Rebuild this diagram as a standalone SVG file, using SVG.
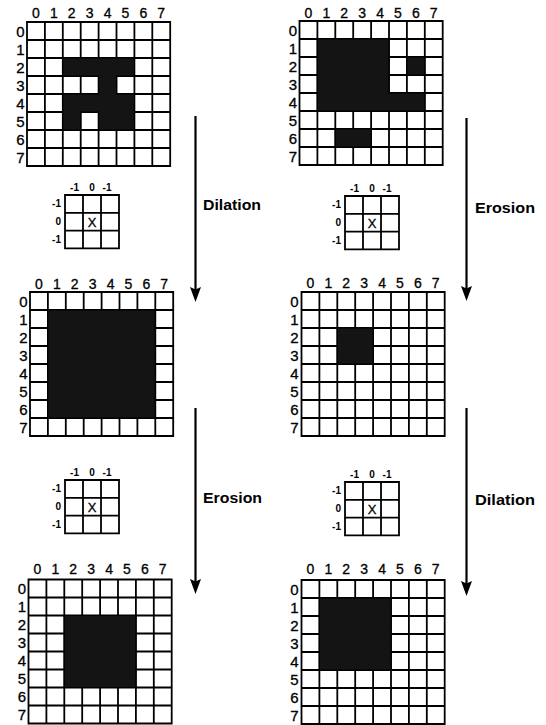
<svg xmlns="http://www.w3.org/2000/svg" xmlns:xlink="http://www.w3.org/1999/xlink" width="546" height="725" viewBox="0 0 546 725">
<style>
.bg{fill:#fff}
.grid{fill:none;stroke:#000;stroke-width:1.8}
.cell{fill:#141414;stroke:#000;stroke-width:1.2}
.lbl{font-family:"Liberation Sans",Arial,sans-serif;font-size:14px;fill:#000;stroke:#000;stroke-width:0.3;text-anchor:middle}
.rl{font-family:"Liberation Sans",Arial,sans-serif;font-size:15px;fill:#000;stroke:#000;stroke-width:0.3;text-anchor:end}
.sl{font-family:"Liberation Sans",Arial,sans-serif;font-size:10px;font-weight:bold;fill:#000;text-anchor:middle}
.sr{font-family:"Liberation Sans",Arial,sans-serif;font-size:10px;font-weight:bold;fill:#000;text-anchor:end}
.x{font-family:"Liberation Sans",Arial,sans-serif;font-size:13px;fill:#000;stroke:#000;stroke-width:0.3;text-anchor:middle}
.op{font-family:"Liberation Sans",Arial,sans-serif;font-size:15px;font-weight:bold;fill:#000}
.arr{fill:none;stroke:#000;stroke-width:2.2}
</style>
<defs>
<g id="g8">
<path class="grid" d="M0 0H143.2V144H0Z M17.9 0V144 M35.8 0V144 M53.7 0V144 M71.6 0V144 M89.5 0V144 M107.4 0V144 M125.3 0V144 M0 18H143.2 M0 36H143.2 M0 54H143.2 M0 72H143.2 M0 90H143.2 M0 108H143.2 M0 126H143.2"/>
</g>
<g id="g3">
<path class="grid" d="M0 0H54V53.4H0Z M18 0V53.4 M36 0V53.4 M0 17.8H54 M0 35.6H54"/>
</g>
<marker id="ah" markerUnits="userSpaceOnUse" markerWidth="15" markerHeight="11" viewBox="0 0 15 11" refX="8" refY="5.5" orient="auto">
<path d="M0 0 L15 5.5 L0 11 L2.5 5.5 Z" fill="#000"/>
</marker>
</defs>
<rect class="bg" x="0" y="0" width="546" height="725"/>

<g id="grid-input-left">
<use xlink:href="#g8" x="27" y="22"/>
<path class="cell" d="M62.8 58H134.4V76H116.5V94H134.4V130H98.6V112H80.7V130H62.8V94H98.6V76H62.8Z"/>
<text class="lbl" x="35.95" y="18">0</text><text class="lbl" x="53.85" y="18">1</text><text class="lbl" x="71.75" y="18">2</text><text class="lbl" x="89.65" y="18">3</text><text class="lbl" x="107.55" y="18">4</text><text class="lbl" x="125.45" y="18">5</text><text class="lbl" x="143.35" y="18">6</text><text class="lbl" x="161.25" y="18">7</text>
<text class="rl" x="24.5" y="36.5">0</text><text class="rl" x="24.5" y="54.5">1</text><text class="rl" x="24.5" y="72.5">2</text><text class="rl" x="24.5" y="90.5">3</text><text class="rl" x="24.5" y="108.5">4</text><text class="rl" x="24.5" y="126.5">5</text><text class="rl" x="24.5" y="144.5">6</text><text class="rl" x="24.5" y="162.5">7</text>
</g>

<g id="grid-input-right">
<use xlink:href="#g8" x="299.5" y="21"/>
<path class="cell" d="M317.4 39h71.6v54h35.8v18h-107.4z M406.9 57h17.9v18h-17.9z M335.3 129h35.8v18h-35.8z"/>
<text class="lbl" x="308.45" y="17.5">0</text><text class="lbl" x="326.35" y="17.5">1</text><text class="lbl" x="344.25" y="17.5">2</text><text class="lbl" x="362.15" y="17.5">3</text><text class="lbl" x="380.05" y="17.5">4</text><text class="lbl" x="397.95" y="17.5">5</text><text class="lbl" x="415.85" y="17.5">6</text><text class="lbl" x="433.75" y="17.5">7</text>
<text class="rl" x="297" y="35.5">0</text><text class="rl" x="297" y="53.5">1</text><text class="rl" x="297" y="71.5">2</text><text class="rl" x="297" y="89.5">3</text><text class="rl" x="297" y="107.5">4</text><text class="rl" x="297" y="125.5">5</text><text class="rl" x="297" y="143.5">6</text><text class="rl" x="297" y="161.5">7</text>
</g>

<g id="se-upper-left">
<use xlink:href="#g3" x="65" y="195"/>
<text class="sl" x="74.5" y="191">-1</text><text class="sl" x="92" y="191">0</text><text class="sl" x="107" y="191">-1</text>
<text class="sr" x="61" y="207">-1</text><text class="sr" x="61" y="225">0</text><text class="sr" x="61" y="243">-1</text>
<text class="x" x="92" y="227">X</text>
</g>

<g id="se-upper-right">
<use xlink:href="#g3" x="345" y="196"/>
<text class="sl" x="354.5" y="192">-1</text><text class="sl" x="372" y="192">0</text><text class="sl" x="387" y="192">-1</text>
<text class="sr" x="341" y="208">-1</text><text class="sr" x="341" y="226">0</text><text class="sr" x="341" y="244">-1</text>
<text class="x" x="372" y="228">X</text>
</g>

<g id="grid-middle-left">
<use xlink:href="#g8" x="30" y="292"/>
<path class="cell" d="M47.9 310h107.4v108h-107.4z"/>
<text class="lbl" x="38.95" y="288.5">0</text><text class="lbl" x="56.85" y="288.5">1</text><text class="lbl" x="74.75" y="288.5">2</text><text class="lbl" x="92.65" y="288.5">3</text><text class="lbl" x="110.55" y="288.5">4</text><text class="lbl" x="128.45" y="288.5">5</text><text class="lbl" x="146.35" y="288.5">6</text><text class="lbl" x="164.25" y="288.5">7</text>
<text class="rl" x="27.5" y="306.5">0</text><text class="rl" x="27.5" y="324.5">1</text><text class="rl" x="27.5" y="342.5">2</text><text class="rl" x="27.5" y="360.5">3</text><text class="rl" x="27.5" y="378.5">4</text><text class="rl" x="27.5" y="396.5">5</text><text class="rl" x="27.5" y="414.5">6</text><text class="rl" x="27.5" y="432.5">7</text>
</g>

<g id="grid-middle-right">
<use xlink:href="#g8" x="301.5" y="292"/>
<path class="cell" d="M337.3 328h35.8v36h-35.8z"/>
<text class="lbl" x="310.45" y="288">0</text><text class="lbl" x="328.35" y="288">1</text><text class="lbl" x="346.25" y="288">2</text><text class="lbl" x="364.15" y="288">3</text><text class="lbl" x="382.05" y="288">4</text><text class="lbl" x="399.95" y="288">5</text><text class="lbl" x="417.85" y="288">6</text><text class="lbl" x="435.75" y="288">7</text>
<text class="rl" x="298.5" y="306.5">0</text><text class="rl" x="298.5" y="324.5">1</text><text class="rl" x="298.5" y="342.5">2</text><text class="rl" x="298.5" y="360.5">3</text><text class="rl" x="298.5" y="378.5">4</text><text class="rl" x="298.5" y="396.5">5</text><text class="rl" x="298.5" y="414.5">6</text><text class="rl" x="298.5" y="432.5">7</text>
</g>

<g id="se-lower-left">
<use xlink:href="#g3" x="65" y="480"/>
<text class="sl" x="74.5" y="476">-1</text><text class="sl" x="92" y="476">0</text><text class="sl" x="107" y="476">-1</text>
<text class="sr" x="61" y="492">-1</text><text class="sr" x="61" y="510">0</text><text class="sr" x="61" y="528">-1</text>
<text class="x" x="92" y="512">X</text>
</g>

<g id="se-lower-right">
<use xlink:href="#g3" x="345" y="482"/>
<text class="sl" x="354.5" y="478">-1</text><text class="sl" x="372" y="478">0</text><text class="sl" x="387" y="478">-1</text>
<text class="sr" x="341" y="494">-1</text><text class="sr" x="341" y="512">0</text><text class="sr" x="341" y="530">-1</text>
<text class="x" x="372" y="514">X</text>
</g>

<g id="grid-bottom-left">
<use xlink:href="#g8" x="28.5" y="579.5"/>
<path class="cell" d="M64.3 615.5h71.6v72h-71.6z"/>
<text class="lbl" x="37.45" y="574">0</text><text class="lbl" x="55.35" y="574">1</text><text class="lbl" x="73.25" y="574">2</text><text class="lbl" x="91.15" y="574">3</text><text class="lbl" x="109.05" y="574">4</text><text class="lbl" x="126.95" y="574">5</text><text class="lbl" x="144.85" y="574">6</text><text class="lbl" x="162.75" y="574">7</text>
<text class="rl" x="26" y="594">0</text><text class="rl" x="26" y="612">1</text><text class="rl" x="26" y="630">2</text><text class="rl" x="26" y="648">3</text><text class="rl" x="26" y="666">4</text><text class="rl" x="26" y="684">5</text><text class="rl" x="26" y="702">6</text><text class="rl" x="26" y="720">7</text>
</g>

<g id="grid-bottom-right">
<use xlink:href="#g8" x="301.5" y="580"/>
<path class="cell" d="M319.4 598h71.6v72h-71.6z"/>
<text class="lbl" x="310.45" y="573.5">0</text><text class="lbl" x="328.35" y="573.5">1</text><text class="lbl" x="346.25" y="573.5">2</text><text class="lbl" x="364.15" y="573.5">3</text><text class="lbl" x="382.05" y="573.5">4</text><text class="lbl" x="399.95" y="573.5">5</text><text class="lbl" x="417.85" y="573.5">6</text><text class="lbl" x="435.75" y="573.5">7</text>
<text class="rl" x="298.5" y="594.5">0</text><text class="rl" x="298.5" y="612.5">1</text><text class="rl" x="298.5" y="630.5">2</text><text class="rl" x="298.5" y="648.5">3</text><text class="rl" x="298.5" y="666.5">4</text><text class="rl" x="298.5" y="684.5">5</text><text class="rl" x="298.5" y="702.5">6</text><text class="rl" x="298.5" y="720.5">7</text>
</g>

<g id="connectors">
<path class="arr" d="M195.5 116V295" marker-end="url(#ah)"/>
<path class="arr" d="M195.5 408V587" marker-end="url(#ah)"/>
<path class="arr" d="M466.5 118V294" marker-end="url(#ah)"/>
<path class="arr" d="M466.5 408V589" marker-end="url(#ah)"/>
<text class="op" x="203" y="210" textLength="58" lengthAdjust="spacingAndGlyphs">Dilation</text>
<text class="op" x="475" y="213" textLength="60" lengthAdjust="spacingAndGlyphs">Erosion</text>
<text class="op" x="203" y="503" textLength="59" lengthAdjust="spacingAndGlyphs">Erosion</text>
<text class="op" x="475" y="505" textLength="60" lengthAdjust="spacingAndGlyphs">Dilation</text>
</g>
</svg>
